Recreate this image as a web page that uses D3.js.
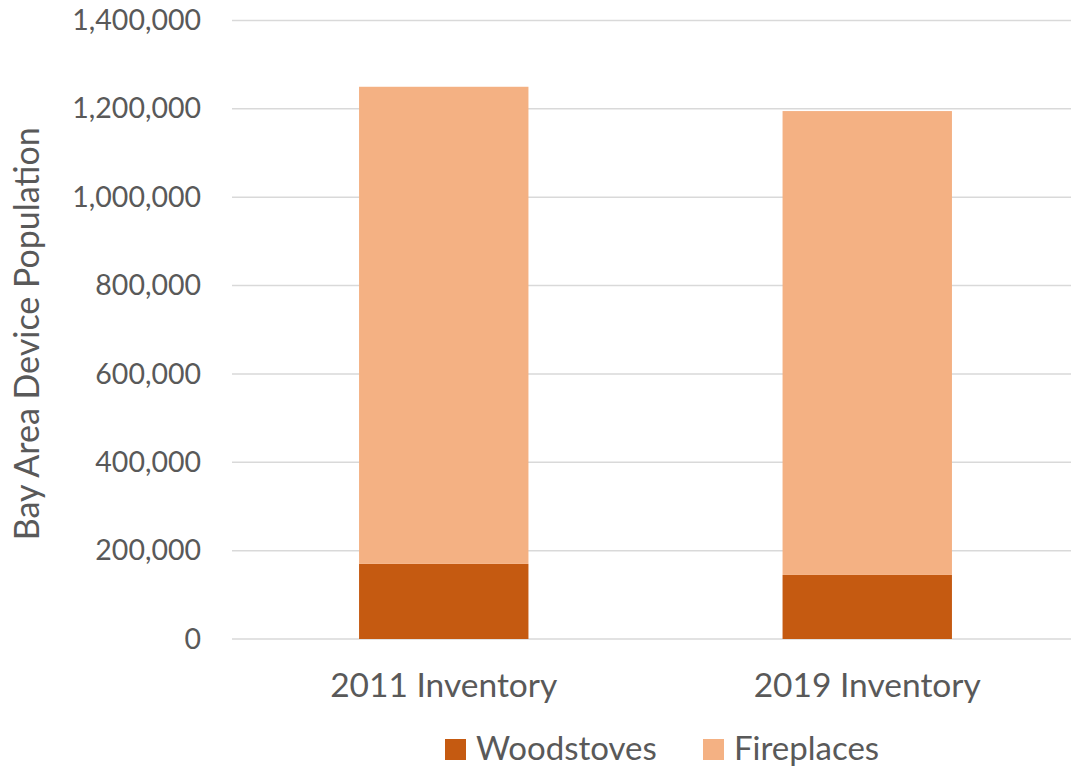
<!DOCTYPE html>
<html>
<head>
<meta charset="utf-8">
<script src="https://cdn.jsdelivr.net/npm/d3@7"></script>
<style>
  body { margin: 0; background: #fff; }
  text { font-family: Lato, "Open Sans", sans-serif; fill: #595959; }
</style>
</head>
<body>
<div id="chart"></div>
<script>
// ---------- data ----------
var categories = ["2011 Inventory", "2019 Inventory"];
var seriesNames = ["Woodstoves", "Fireplaces"];
var woodstoves = [170000, 145000];
var fireplaces = [1080000, 1050000];   // stacked on top of woodstoves
var yTicks = [0, 200000, 400000, 600000, 800000, 1000000, 1200000, 1400000];
var colors = ["#C55A11", "#F4B183"];

var width = 1071,
    height = 769,
    margin = {top: 20.5, right: -8, bottom: 130, left: 232};

var svg = d3.select("#chart").append("svg")
    .attr("width", width)
    .attr("height", height);

var x = d3.scaleBand()
    .domain(categories)
    .range([margin.left, width - margin.right])
    .paddingInner(0.6)
    .paddingOuter(0.3);

var y = d3.scaleLinear()
    .domain([0, 1400000])
    .range([height - margin.bottom, margin.top]);

// gridlines
svg.append("g")
    .selectAll("line")
    .data(yTicks)
    .enter()
    .append("line")
    .attr("x1", margin.left)
    .attr("x2", width - margin.right)
    .attr("y1", function(d){ return y(d); })
    .attr("y2", function(d){ return y(d); })
    .style("stroke", "#d9d9d9")
    .style("stroke-width", 1.5);

// y axis labels
var yAxis = d3.axisLeft(y)
    .tickValues(yTicks)
    .tickSize(0)
    .tickPadding(0)
    .tickFormat(d3.format(","));

svg.append("g")
    .attr("transform", "translate(201,0)")
    .call(yAxis)
    .call(function(g){ g.select(".domain").remove(); })
    .selectAll("text")
    .style("font-size", "28.5px")
    .style("fill", "#595959")
    .style("font-family", "Lato, sans-serif");

// stacked bars
var rows = categories.map(function(c, i){
    return {cat: c, Woodstoves: woodstoves[i], Fireplaces: fireplaces[i]};
});
var stacked = d3.stack().keys(seriesNames)(rows);

svg.append("g")
    .selectAll("g")
    .data(stacked)
    .enter()
    .append("g")
    .style("fill", function(d, i){ return colors[i]; })
    .selectAll("rect")
    .data(function(d){ return d; })
    .enter()
    .append("rect")
    .attr("x", function(d){ return x(d.data.cat); })
    .attr("width", x.bandwidth())
    .attr("y", function(d){ return y(d[1]); })
    .attr("height", function(d){ return y(d[0]) - y(d[1]); });

// category labels
svg.append("g")
    .selectAll("text")
    .data(categories)
    .enter()
    .append("text")
    .attr("x", function(d){ return x(d) + x.bandwidth() / 2; })
    .attr("y", 697)
    .attr("text-anchor", "middle")
    .style("font-size", "33.5px")
    .text(function(d){ return d; });

// y axis title
svg.append("text")
    .attr("transform", "translate(39," + ((y(0) + y(1400000)) / 2 + 4) + ") rotate(-90)")
    .attr("text-anchor", "middle")
    .style("font-size", "34px")
    .text("Bay Area Device Population");

// legend
var legendX = [445, 703];
var legend = svg.append("g")
    .selectAll("g")
    .data(seriesNames)
    .enter()
    .append("g")
    .attr("transform", function(d, i){ return "translate(" + legendX[i] + ",739)"; });

legend.append("rect")
    .attr("width", 21)
    .attr("height", 21)
    .style("fill", function(d, i){ return colors[i]; });

legend.append("text")
    .attr("x", 31)
    .attr("y", 21)
    .style("font-size", "33px")
    .text(function(d){ return d; });
</script>
</body>
</html>
